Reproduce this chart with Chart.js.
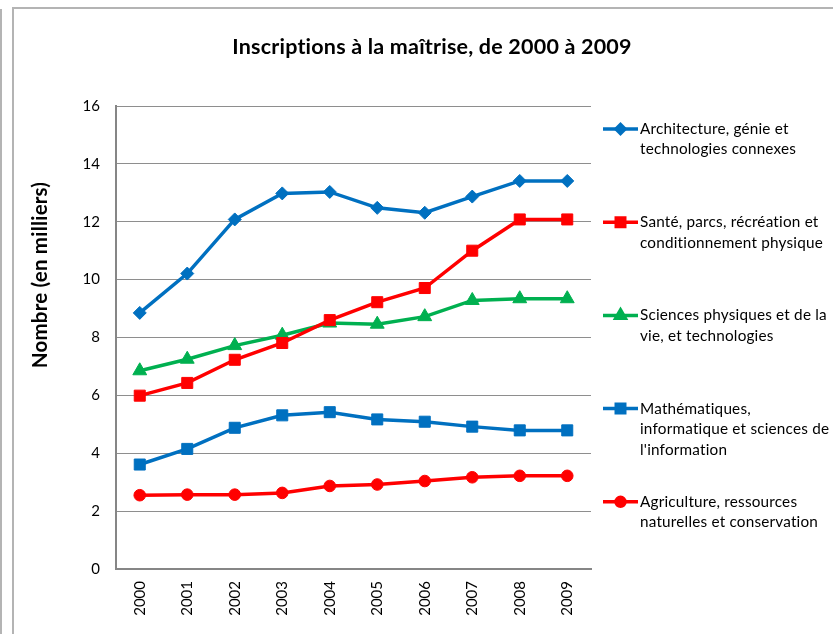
<!DOCTYPE html>
<html lang="fr">
<head>
<meta charset="UTF-8" />
<title>Inscriptions à la maîtrise, de 2000 à 2009</title>
<style>
    html, body {
        margin: 0;
        padding: 0;
        background: #ffffff;
        overflow: hidden;
    }

    #wrap {
        position: relative;
        width: 833px;
        height: 634px;
    }

    #chart {
        position: absolute;
        left: 0;
        top: 0;
    }

    /* grey frame edges of the original chart object */
    .edge {
        position: absolute;
        background: #b4b4b4;
    }
</style>
</head>
<body>
<div id="wrap">
    <canvas id="chart" width="833" height="634"></canvas>
    <div class="edge" style="left:0;top:9px;width:2px;height:625px"></div>
    <div class="edge" style="left:12px;top:7px;width:2px;height:627px"></div>
    <div class="edge" style="left:12px;top:7px;width:821px;height:2px"></div>
</div>

<script src="https://cdn.jsdelivr.net/npm/chart.js"></script>
<script>
    // Data (thousands)
    const years = ["2000", "2001", "2002", "2003", "2004", "2005", "2006", "2007", "2008", "2009"];
    const architecture = [8.85, 10.21, 12.08, 12.98, 13.03, 12.48, 12.31, 12.87, 13.41, 13.41];
    const sante = [5.99, 6.43, 7.23, 7.81, 8.6, 9.22, 9.71, 11.0, 12.08, 12.08];
    const sciences = [6.85, 7.25, 7.72, 8.08, 8.5, 8.46, 8.72, 9.28, 9.34, 9.34];
    const maths = [3.61, 4.15, 4.88, 5.31, 5.42, 5.17, 5.09, 4.92, 4.79, 4.79];
    const agriculture = [2.55, 2.57, 2.57, 2.63, 2.87, 2.92, 3.04, 3.17, 3.22, 3.22];

    const yTicks = [0, 2, 4, 6, 8, 10, 12, 14, 16];

    const titleText = "Inscriptions à la maîtrise, de 2000 à 2009";
    const yTitleText = "Nombre (en milliers)";

    // legend labels, one entry per line
    const legendLabels = [
        ["Architecture, génie et", "technologies connexes"],
        ["Santé, parcs, récréation et", "conditionnement physique"],
        ["Sciences physiques et de la", "vie, et technologies"],
        ["Mathématiques,", "informatique et sciences de", "l'information"],
        ["Agriculture, ressources", "naturelles et conservation"]
    ];

    const BLUE = "#0070c0";
    const RED = "#ff0000";
    const GREEN = "#00b050";
    const FONT = "Lato, 'Open Sans', sans-serif";

    function series(label, data, color, style, radius, legendRadius) {
        return {
            label: label,
            data: data,
            borderColor: color,
            backgroundColor: color,
            borderWidth: 3.5,
            pointStyle: style,
            pointRadius: radius,
            pointHoverRadius: radius,
            pointBorderWidth: 1,
            pointBorderColor: color,
            pointBackgroundColor: color,
            legendRadius: legendRadius,
            tension: 0
        };
    }

    // Draws the chart title, the y axis title and the right hand legend
    const decorations = {
        id: "decorations",
        afterDraw(chart) {
            const ctx = chart.ctx;
            ctx.save();
            ctx.fillStyle = "#000000";
            // a tiny spacing keeps Lato from joining "ti" into a ligature
            ctx.letterSpacing = "0.2px";

            // title
            ctx.font = "bold 21.5px " + FONT;
            ctx.textAlign = "center";
            ctx.textBaseline = "middle";
            ctx.fillText(titleText, 432, 47);

            // y axis title
            ctx.save();
            ctx.translate(40, 275);
            ctx.rotate(-Math.PI / 2);
            ctx.font = "bold 20.5px " + FONT;
            ctx.fillText(yTitleText, 0, 0);
            ctx.restore();

            // legend
            ctx.textAlign = "left";
            ctx.font = "15.3px " + FONT;
            chart.data.datasets.forEach((ds, i) => {
                const y = 129 + i * 93.2;
                ctx.strokeStyle = ds.borderColor;
                ctx.lineWidth = 3.5;
                ctx.beginPath();
                ctx.moveTo(603, y);
                ctx.lineTo(638, y);
                ctx.stroke();
                ctx.fillStyle = ds.backgroundColor;
                Chart.helpers.drawPoint(ctx, {
                    pointStyle: ds.pointStyle,
                    radius: ds.legendRadius,
                    borderWidth: 1,
                    rotation: 0
                }, 620.5, y);
                ctx.fillStyle = "#000000";
                legendLabels[i].forEach((line, j) => {
                    ctx.fillText(line, 640, y + j * 20.5);
                });
            });
            ctx.restore();
        }
    };

    function drawChart() {
        const ctx = document.getElementById("chart").getContext("2d");

        window.myChart = new Chart(ctx, {
            type: "line",
            data: {
                labels: years,
                datasets: [
                    series(legendLabels[0].join(" "), architecture, BLUE, "rectRot", 6.5, 4.5),
                    series(legendLabels[1].join(" "), sante, RED, "rect", 7.8, 6),
                    series(legendLabels[2].join(" "), sciences, GREEN, "triangle", 8, 5.5),
                    series(legendLabels[3].join(" "), maths, BLUE, "rect", 7.8, 6),
                    series(legendLabels[4].join(" "), agriculture, RED, "circle", 5.8, 4.5)
                ]
            },
            options: {
                responsive: false,
                animation: false,
                devicePixelRatio: 1,
                layout: {
                    padding: { left: 0, right: 242, top: 106, bottom: 0 }
                },
                plugins: {
                    legend: { display: false },
                    title: { display: false },
                    tooltip: { enabled: false }
                },
                scales: {
                    x: {
                        offset: true,
                        grid: { display: false, drawTicks: false },
                        border: { color: "#868686", width: 2 },
                        ticks: {
                            color: "#000000",
                            font: { family: FONT, size: 15 },
                            maxRotation: 90,
                            minRotation: 90,
                            padding: 12
                        },
                        afterFit(scale) {
                            scale.height = 65;
                        }
                    },
                    y: {
                        min: 0,
                        max: 16,
                        afterBuildTicks(scale) {
                            scale.ticks = yTicks.map(v => ({ value: v }));
                        },
                        grid: {
                            color: "#8e8e8e",
                            lineWidth: 1,
                            drawTicks: false
                        },
                        border: { color: "#868686", width: 2 },
                        ticks: {
                            color: "#000000",
                            font: { family: FONT, size: 15 },
                            padding: 16
                        },
                        afterFit(scale) {
                            scale.width = 116;
                        }
                    }
                }
            },
            plugins: [decorations]
        });
    }

    window.onload = drawChart;
</script>
</body>
</html>
